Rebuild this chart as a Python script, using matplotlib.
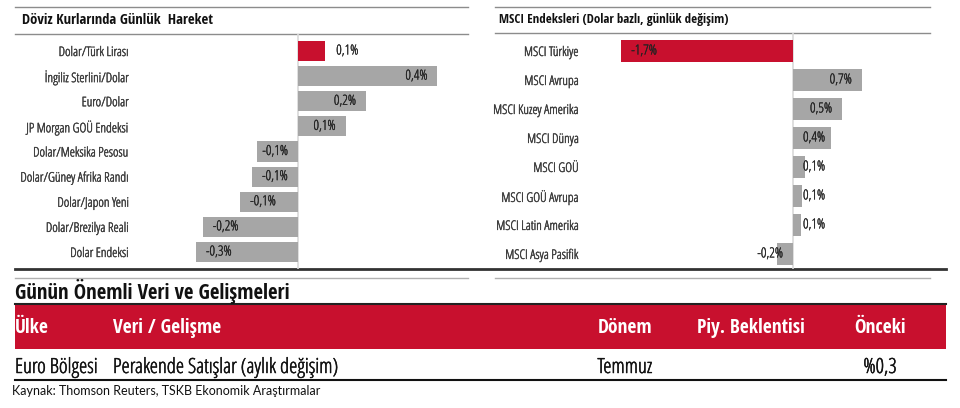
import matplotlib
matplotlib.use('Agg')
import matplotlib.pyplot as plt
import matplotlib.patheffects as pe
from matplotlib.patches import Rectangle

W, H = 960, 408
RED = '#C8102E'
GRAY = '#A6A6A6'
TXT = '#3C3C3C'

# Veri — döviz kurları
doviz = ['Dolar/Türk Lirası', 'İngiliz Sterlini/Dolar', 'Euro/Dolar', 'JP Morgan GOÜ Endeksi',
         'Dolar/Meksika Pesosu', 'Dolar/Güney Afrika Randı', 'Dolar/Japon Yeni',
         'Dolar/Brezilya Reali', 'Dolar Endeksi']
doviz_deg = [0.08, 0.41, 0.20, 0.14, -0.12, -0.135, -0.17, -0.28, -0.30]
doviz_etiket = ['0,1%', '0,4%', '0,2%', '0,1%', '-0,1%', '-0,1%', '-0,1%', '-0,2%', '-0,3%']

# Veri — MSCI endeksleri
msci = ['MSCI Türkiye', 'MSCI Avrupa', 'MSCI Kuzey Amerika', 'MSCI Dünya', 'MSCI GOÜ',
        'MSCI GOÜ Avrupa', 'MSCI Latin Amerika', 'MSCI Asya Pasifik']
msci_deg = [-1.70, 0.68, 0.485, 0.375, 0.12, 0.09, 0.08, -0.16]
msci_etiket = ['-1,7%', '0,7%', '0,5%', '0,4%', '0,1%', '0,1%', '0,1%', '-0,2%']

# Tablo
basliklar = ['Ülke', 'Veri / Gelişme', 'Dönem', 'Piy. Beklentisi', 'Önceki']
satir = ['Euro Bölgesi', 'Perakende Satışlar (aylık değişim)', 'Temmuz', '', '%0,3']

fig = plt.figure(figsize=(W / 100, H / 100), dpi=100)
bg = fig.add_axes([0, 0, 1, 1])
bg.set_xlim(0, W)
bg.set_ylim(H, 0)
bg.axis('off')

NF = dict(family=['Open Sans', 'DejaVu Sans'], fontstretch='condensed')
BF = dict(family=['Open Sans Condensed', 'Open Sans', 'DejaVu Sans'], fontstretch='condensed',
          fontweight='bold')


def kalin(color, lw=0.3):
    # ince yazıyı biraz kalınlaştır
    return [pe.withStroke(linewidth=lw, foreground=color)]


def px_axes(x0, y0, x1, y1):
    return fig.add_axes([x0 / W, 1 - y1 / H, (x1 - x0) / W, (y1 - y0) / H])


def panel(box, cats, vals, labels, xlim, ylim, bar_h, outside_first):
    ax = px_axes(*box)
    ax.patch.set_alpha(0)
    y = list(range(len(cats)))
    colors = [RED] + [GRAY] * (len(cats) - 1)
    ax.barh(y, vals, height=bar_h, color=colors, zorder=3)
    ax.axvline(0, color='#D9D9D9', lw=1.2, zorder=2)
    ax.set_xlim(*xlim)
    ax.set_ylim(*ylim)
    ax.set_yticks(y)
    ax.set_yticklabels(cats, fontsize=9.5, color=TXT, **NF)
    for t in ax.get_yticklabels():
        t.set_path_effects(kalin(TXT, 0.3))
    ax.tick_params(axis='y', length=0, pad=8)
    ax.set_xticks([])
    for s in ax.spines.values():
        s.set_visible(False)
    ppu = (box[2] - box[0]) / (xlim[1] - xlim[0])
    for i, (v, lab) in enumerate(zip(vals, labels)):
        length = abs(v) * ppu
        if i == 0 and outside_first:
            xy, dx, ha = v, 11, 'left'
        elif v >= 0:
            xy, dx, ha = (v, -10, 'right') if length > 42 else (0, 10, 'left')
        else:
            xy, dx, ha = (v, 10, 'left') if length > 44 else (0, -10, 'right')
        ax.annotate(lab, xy=(xy, i), xytext=(dx, 0), textcoords='offset pixels',
                    ha=ha, va='center', fontsize=10, color='#222222', zorder=4,
                    path_effects=kalin('#222222', 0.2), **NF)
    return ax


panel((140, 34, 468, 269), doviz, doviz_deg, doviz_etiket,
      ((140 - 298) / 340, (468 - 298) / 340), (8.677, -0.677), 0.8, True)
panel((590, 33, 930, 269), msci, msci_deg, msci_etiket,
      ((590 - 793) / 101, (930 - 793) / 101), (7.52, -0.62), 0.76, False)

# Çizgiler
ln = dict(color='#8C8C8C', lw=1.0)
bg.plot([15, 468], [7, 7], **ln)
bg.plot([15, 468], [34, 34], **ln)
bg.plot([495, 930], [7, 7], **ln)
bg.plot([495, 930], [33, 33], **ln)
bg.plot([15, 946], [269, 269], color='#333333', lw=2.0)
bg.plot([15, 468], [278, 278], color='#B0B0B0', lw=1.0)
bg.plot([495, 930], [278, 278], color='#B0B0B0', lw=1.0)

# Panel başlıkları
bg.text(22, 20, 'Döviz Kurlarında Günlük  Hareket', fontsize=10.5,
        color='#111111', va='center', **BF)
bg.text(499, 20, 'MSCI Endeksleri (Dolar bazlı, günlük değişim)', fontsize=9.3,
        color='#111111', va='center', **BF)

# Alt tablo
bg.text(15, 291, 'Günün Önemli Veri ve Gelişmeleri', fontsize=15,
        color='#111111', va='center', **BF)
bg.add_patch(Rectangle((15, 304), 931, 45, color=RED, lw=0))
bg.plot([15, 946], [304, 304], color='#222222', lw=1.5)
bg.plot([15, 946], [380, 380], color='#111111', lw=1.5)

kol_x = [15, 113, 625, 751, 880]
kol_ha = ['left', 'left', 'center', 'center', 'center']
for x, ha, b, s in zip(kol_x, kol_ha, basliklar, satir):
    bg.text(x, 328, b, fontsize=14, color='white', ha=ha, va='center', **BF)
    bg.text(x, 368, s, fontsize=15, color='#111111', ha=ha, va='center',
            path_effects=kalin('#111111', 0.35), **NF)

bg.text(12, 391, 'Kaynak: Thomson Reuters, TSKB Ekonomik Araştırmalar', family=['Lato', 'DejaVu Sans'],
        fontsize=9, color='#111111', va='center')

fig.savefig('out.png', dpi=100)
